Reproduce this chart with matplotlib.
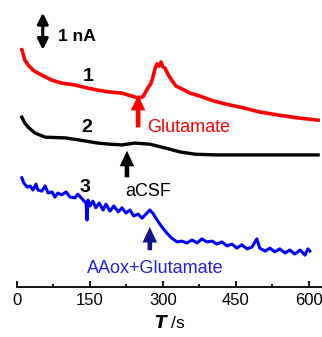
import matplotlib
matplotlib.use("Agg")
import matplotlib.pyplot as plt
from matplotlib.ticker import MultipleLocator

plt.rcParams['font.family'] = ['Liberation Sans', 'DejaVu Sans']

# trace 1: glutamate (red), time in s, current in nA (with display offset)
t1 = [10, 16, 23, 33, 43, 58, 72, 92, 119, 144, 166, 191, 216, 236, 249, 259,
      269, 275, 279, 284, 288, 292, 296, 300, 304, 310, 318, 327, 335, 356,
      376, 399, 427, 466, 499, 536, 577, 619]
i1 = [6.41, 6.14, 6.00, 5.86, 5.78, 5.68, 5.59, 5.51, 5.46, 5.38, 5.32, 5.27,
      5.24, 5.16, 5.11, 5.14, 5.38, 5.49, 5.65, 5.92, 6.03, 5.97, 6.08, 5.95,
      5.92, 5.76, 5.59, 5.43, 5.38, 5.24, 5.16, 5.05, 4.95, 4.84, 4.73, 4.65,
      4.57, 4.51]

# trace 2: aCSF (black)
t2 = [10, 16, 23, 37, 58, 99, 129, 166, 191, 216, 226, 242, 273, 304, 335,
      366, 407, 479, 551, 619]
i2 = [4.59, 4.43, 4.32, 4.16, 4.05, 4.03, 3.97, 3.89, 3.86, 3.84, 3.86, 3.89,
      3.86, 3.76, 3.65, 3.59, 3.57, 3.57, 3.57, 3.57]

# trace 3: AAox + glutamate (blue)
t3 = [10, 14, 21, 27, 33, 39, 43, 51, 58, 64, 72, 78, 84, 92, 101, 109, 119,
      125, 134, 142, 144, 146, 150, 156, 162, 169, 177, 183, 191, 199, 208,
      216, 224, 232, 240, 249, 257, 265, 273, 279, 288, 298, 308, 318, 329,
      339, 349, 360, 370, 380, 390, 401, 411, 421, 432, 442, 452, 462, 473,
      483, 493, 499, 510, 520, 530, 540, 551, 561, 571, 582, 592, 598, 602]
i3 = [2.95, 2.81, 2.70, 2.73, 2.62, 2.78, 2.62, 2.59, 2.73, 2.54, 2.57, 2.43,
      2.54, 2.49, 2.57, 2.43, 2.41, 2.51, 2.38, 2.27, 1.81, 2.35, 2.19, 2.32,
      2.14, 2.27, 2.08, 2.24, 2.05, 2.19, 2.03, 2.14, 2.00, 2.08, 1.92, 1.97,
      1.86, 1.97, 2.08, 2.00, 1.81, 1.62, 1.46, 1.32, 1.22, 1.24, 1.19, 1.27,
      1.19, 1.30, 1.22, 1.24, 1.16, 1.22, 1.11, 1.16, 1.05, 1.14, 1.03, 1.08,
      1.30, 1.05, 0.97, 1.05, 0.95, 1.03, 0.92, 1.00, 0.89, 1.00, 0.86, 1.03,
      0.97]

xticks = [0, 150, 300, 450, 600]

fig = plt.figure(figsize=(3.22, 3.37), dpi=100)
ax = fig.add_axes([17 / 322, 50 / 337, 305 / 322, 287 / 337])

ax.plot(t1, i1, color='#ff0000', lw=2.6)
ax.plot(t2, i2, color='black', lw=2.4)
ax.plot(t3, i3, color='#0000ff', lw=2.2)

ax.set_xlim(0, 627)
ax.set_ylim(0, 7.757)

for s in ['top', 'right', 'left']:
    ax.spines[s].set_visible(False)
ax.spines['bottom'].set_linewidth(1.3)
ax.set_yticks([])
ax.set_xticks(xticks)
ax.xaxis.set_minor_locator(MultipleLocator(75))
ax.tick_params(axis='x', which='major', direction='in', length=4.5, width=1.3,
               labelsize=12, pad=4)
ax.tick_params(axis='x', which='minor', direction='in', length=2.5, width=1.3)
ax.set_xlabel(r'$\bfit{T}$ /s', fontsize=12.5, labelpad=5)

# arrows
arw = 'simple,head_width=0.7,head_length=0.75,tail_width=0.22'
ax.annotate('', xy=(249, 5.27), xytext=(249, 4.24),
            arrowprops=dict(arrowstyle=arw, color='#ff0000', lw=0, mutation_scale=15))
ax.annotate('', xy=(226, 3.76), xytext=(226, 2.89),
            arrowprops=dict(arrowstyle=arw, color='black', lw=0, mutation_scale=15))
ax.annotate('', xy=(273, 1.70), xytext=(273, 0.92),
            arrowprops=dict(arrowstyle=arw, color='#14148c', lw=0, mutation_scale=15))
ax.annotate('', xy=(53, 7.41), xytext=(53, 6.41),
            arrowprops=dict(arrowstyle='<|-|>', color='black', lw=2.2,
                            mutation_scale=16, shrinkA=0, shrinkB=0))

ax.text(84, 6.76, '1 nA', fontsize=12.5, fontweight='bold', va='center', ha='left')
ax.text(146, 5.70, '1', fontsize=14, fontweight='bold', va='center', ha='center')
ax.text(144, 4.30, '2', fontsize=14, fontweight='bold', va='center', ha='center')
ax.text(140, 2.68, '3', fontsize=14, fontweight='bold', va='center', ha='center')
ax.text(267, 4.30, 'Glutamate', fontsize=13, color='#ff0000', va='center', ha='left')
ax.text(222, 2.59, 'aCSF', fontsize=13, color='black', va='center', ha='left')
ax.text(144, 0.51, 'AAox+Glutamate', fontsize=13, color='#2020e0', va='center', ha='left')

fig.savefig('out.png', dpi=100)
